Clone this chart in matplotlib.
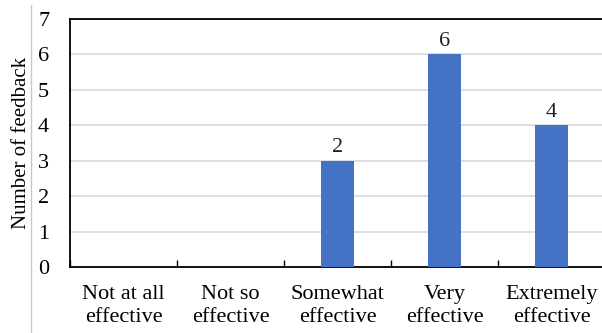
import numpy as np
import matplotlib.pyplot as plt
from matplotlib.lines import Line2D

plt.rcParams['font.family'] = ['Liberation Serif', 'DejaVu Serif']

categories = ['Not at all\neffective', 'Not so\neffective', 'Somewhat\neffective',
              'Very\neffective', 'Extremely\neffective']
counts = [0, 0, 3, 6, 4]
bar_labels = ['', '', '2', '6', '4']

W, H = 602, 333
fig = plt.figure(figsize=(W / 100, H / 100), dpi=100)
# axes extends past the right edge (the reference is cropped there)
ax = fig.add_axes([70 / W, 1 - 267 / H, 535 / W, 248 / H])

x = np.arange(len(categories))
ax.bar(x, counts, width=0.31, color='#4472c4', zorder=3)
for xi, c, lab in zip(x, counts, bar_labels):
    if lab:
        ax.text(xi, c + 0.1, lab, ha='center', va='bottom', fontsize=16, color='#222222')

ax.set_xlim(-0.5, len(categories) - 0.5)
ax.set_ylim(0, 7)
ax.set_yticks(range(8))
ax.yaxis.grid(True, color='#d9d9d9', linewidth=1.2, zorder=0)
ax.tick_params(axis='y', length=0, labelsize=16, pad=15)

# boundary ticks pointing up, labels at centres
ax.set_xticks(np.arange(-0.5, len(categories), 1.0))
ax.set_xticklabels([])
ax.tick_params(axis='x', which='major', direction='in', length=5, width=1)
ax.set_xticks(x, minor=True)
ax.set_xticklabels(categories, minor=True, fontsize=16, linespacing=1.3)
ax.tick_params(axis='x', which='minor', length=0, pad=13)

for s in ax.spines.values():
    s.set_color('black')
    s.set_linewidth(1.3)

ax.set_ylabel('Number of feedback', fontsize=15, labelpad=5)

fig.add_artist(Line2D([31 / W, 31 / W], [0, 1 - 5 / H], color='#c8c8c8', linewidth=1))

fig.savefig('out.png', dpi=100)
